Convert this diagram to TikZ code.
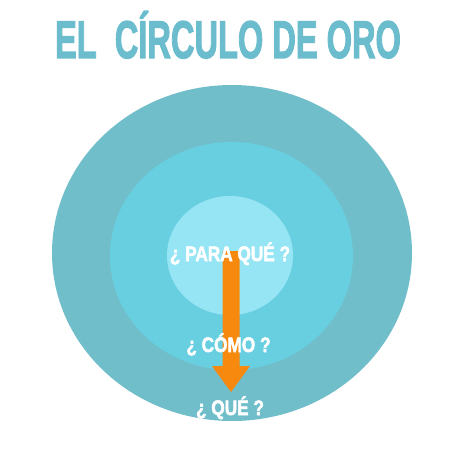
\documentclass[tikz,border=0pt]{standalone}
\usepackage{fontspec}
\setmainfont{Liberation Sans}
\newfontfamily\heavyfont[FakeBold=2.5]{Liberation Sans Bold}
\usepackage{graphicx}
\definecolor{outerc}{HTML}{71BECB}
\definecolor{midc}{HTML}{68CFE1}
\definecolor{innerc}{HTML}{96E5F4}
\definecolor{titlec}{HTML}{6BBDCD}
\definecolor{arrowc}{HTML}{F7890F}
\tikzset{
  lbl/.style={text=white,font=\heavyfont\fontsize{21}{21}\selectfont,inner sep=0pt,anchor=base},
  ttl/.style={text=titlec,font=\heavyfont\fontsize{53}{53}\selectfont,inner sep=0pt,anchor=base}
}
\begin{document}
\begin{tikzpicture}[x=1pt,y=-1pt]
\useasboundingbox (0,0) rectangle (460,460);
\fill[white] (0,0) rectangle (460,460);
\node[ttl] (title) at (228,58) {\scalebox{0.615}[1]{EL\ \ CÍRCULO DE ORO}};
\fill[outerc] (232,253) ellipse [x radius=180, y radius=168];
\fill[midc] (231.5,256) ellipse [x radius=121.5, y radius=114];
\fill[innerc] (230,255.5) ellipse [x radius=63, y radius=59.5];
\coordinate (shafttop) at (231,251);
\coordinate (tip) at (231,392);
\fill[arrowc] (222.5,251) -- (239.5,251) -- (239.5,366) -- (250,366) -- (231,392) -- (212,366) -- (222.5,366) -- cycle;
\node[lbl] (why) at (230,261) {\scalebox{0.82}[1]{¿ PARA QUÉ ?}};
\node[lbl] (how) at (228.5,352) {\scalebox{0.82}[1]{¿ CÓMO ?}};
\node[lbl] (what) at (230,415) {\scalebox{0.82}[1]{¿ QUÉ ?}};
\end{tikzpicture}
\end{document}
